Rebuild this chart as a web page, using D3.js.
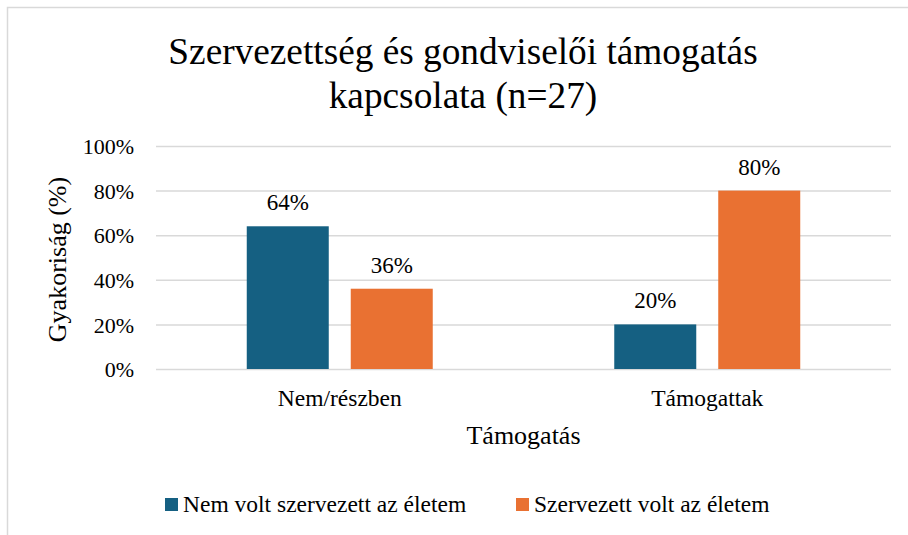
<!DOCTYPE html>
<html>
<head>
<meta charset="utf-8">
<script src="https://cdn.jsdelivr.net/npm/d3@7"></script>
<style>
  html, body { margin: 0; padding: 0; background: #fff; }
  svg, svg text { font-family: "Liberation Serif", "Times New Roman", serif !important; }
</style>
</head>
<body>
<svg id="chart" width="908" height="535"></svg>
<script>
const categories = ["Nem/részben", "Támogattak"];
const seriesNames = ["Nem volt szervezett az életem", "Szervezett volt az életem"];
const seriesNem = [64, 20];
const seriesSzervezett = [36, 80];
const yTicks = [0, 20, 40, 60, 80, 100];
const titleLines = ["Szervezettség és gondviselői támogatás", "kapcsolata (n=27)"];
const xTitle = "Támogatás";
const yTitle = "Gyakoriság (%)";
const colors = ["#156082", "#E97132"];

const seriesValues = [seriesNem, seriesSzervezett];
const data = categories.map((c, i) => ({
  cat: c,
  vals: seriesNames.map((s, j) => ({ s, v: seriesValues[j][i], j }))
}));

const svg = d3.select("#chart");
const W = 908, H = 535;
const plot = { left: 156, right: 891, top: 146, bottom: 369 };

// outer border (partially visible)
svg.append("path")
  .attr("d", `M7.5,${H} L7.5,7.5 L${W},7.5`)
  .attr("fill", "none")
  .attr("stroke", "#d9d9d9")
  .attr("stroke-width", 1.5);

const x0 = d3.scaleBand().domain(categories)
  .range([plot.left, plot.right]).paddingInner(0.4939).paddingOuter(0.24695);
const x1 = d3.scaleBand().domain(seriesNames)
  .range([0, x0.bandwidth()]).paddingInner(0.2115).paddingOuter(0);
const y = d3.scaleLinear().domain([0, 100]).range([plot.bottom, plot.top]);

// gridlines
const yAxis = d3.axisLeft(y).tickValues(yTicks).tickFormat(d => d + "%")
  .tickSize(-(plot.right - plot.left)).tickPadding(22);
const gy = svg.append("g").attr("transform", `translate(${plot.left},0)`).call(yAxis);
gy.attr("font-family", null);
gy.select(".domain").remove();
gy.selectAll(".tick line").attr("stroke", "#d9d9d9").attr("stroke-width", 1.5);
gy.selectAll(".tick text")
  .attr("font-size", 22).attr("fill", "#000").attr("dy", "0.35em");

// bars
const groups = svg.append("g").selectAll("g").data(data).join("g")
  .attr("transform", d => `translate(${x0(d.cat)},0)`);
groups.selectAll("rect").data(d => d.vals).join("rect")
  .attr("x", d => x1(d.s))
  .attr("width", x1.bandwidth())
  .attr("y", d => y(d.v))
  .attr("height", d => y(0) - y(d.v))
  .attr("fill", d => colors[d.j]);
groups.selectAll("text").data(d => d.vals).join("text")
  .attr("x", d => x1(d.s) + x1.bandwidth() / 2)
  .attr("y", d => y(d.v) - 16)
  .attr("text-anchor", "middle")
  .attr("font-size", 23)
  .attr("fill", "#000")
  .text(d => d.v + "%");

// x axis labels
const xAxis = d3.axisBottom(x0).tickSize(0).tickPadding(37);
const gx = svg.append("g").attr("transform", `translate(0,${plot.bottom})`).call(xAxis);
gx.attr("font-family", null);
gx.select(".domain").remove();
gx.selectAll(".tick text")
  .attr("font-size", 23.5).attr("fill", "#000").attr("dy", "0");

// title
svg.append("text").attr("text-anchor", "middle").attr("font-size", 37.3).attr("fill", "#000")
  .selectAll("tspan").data(titleLines).join("tspan")
  .attr("x", 463).attr("y", (d, i) => 64 + i * 44).text(d => d);

// axis titles
svg.append("text").attr("x", (plot.left + plot.right) / 2).attr("y", 444)
  .attr("text-anchor", "middle").attr("font-size", 26).attr("fill", "#000").text(xTitle);
svg.append("text")
  .attr("transform", `translate(66,${(plot.top + plot.bottom) / 2 + 2}) rotate(-90)`)
  .attr("text-anchor", "middle").attr("font-size", 26).attr("fill", "#000").text(yTitle);

// legend
const legendX = [165, 516];
const leg = svg.append("g").selectAll("g").data(seriesNames).join("g")
  .attr("transform", (d, i) => `translate(${legendX[i]},498)`);
leg.append("rect").attr("width", 13).attr("height", 13).attr("fill", (d, i) => colors[i]);
leg.append("text").attr("x", 18).attr("y", 14).attr("font-size", 23.5).attr("fill", "#000").text(d => d);
</script>
</body>
</html>
